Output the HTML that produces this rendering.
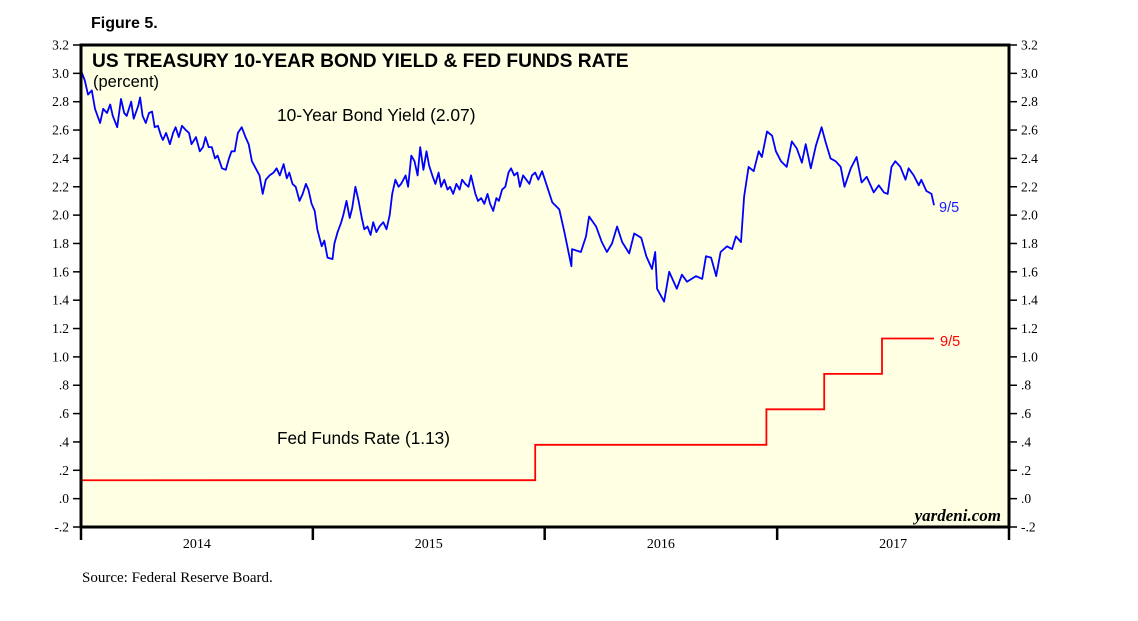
<!DOCTYPE html>
<html><head><meta charset="utf-8">
<style>
body{margin:0;background:#fff;}
svg{display:block;}
.ser{font-family:"Liberation Serif",serif;}
.san{font-family:"Liberation Sans",sans-serif;}
</style></head>
<body>
<svg id="chart" width="1138" height="621" viewBox="0 0 1138 621">
<text x="91" y="28" class="san" font-size="16" font-weight="bold">Figure 5.</text>
<rect x="81" y="45" width="928" height="482" fill="#ffffe3" stroke="none"/>
<g id="ticks"></g>
<g id="series"></g>
<rect x="81" y="45" width="928" height="482" fill="none" stroke="#000" stroke-width="3"/>
<text x="92" y="67" class="san" font-size="19.2" font-weight="bold">US TREASURY 10-YEAR BOND YIELD &amp; FED FUNDS RATE</text>
<text x="93" y="87" class="san" font-size="16.5">(percent)</text>
<text x="277" y="121" class="san" font-size="17.4">10-Year Bond Yield (2.07)</text>
<text x="277" y="444" class="san" font-size="17.2">Fed Funds Rate (1.13)</text>
<text x="939" y="212" class="san" font-size="14.5" fill="#1a1aff">9/5</text>
<text x="940" y="346" class="san" font-size="14.5" fill="#ff0000">9/5</text>
<text x="1001" y="521" class="ser" font-size="17" font-style="italic" font-weight="bold" text-anchor="end">yardeni.com</text>
<text x="82" y="582" class="ser" font-size="15">Source: Federal Reserve Board.</text>
</svg>
<script>
const yTicks=[-0.2,0,0.2,0.4,0.6,0.8,1.0,1.2,1.4,1.6,1.8,2.0,2.2,2.4,2.6,2.8,3.0,3.2];
const yTickLabels=["-.2",".0",".2",".4",".6",".8","1.0","1.2","1.4","1.6","1.8","2.0","2.2","2.4","2.6","2.8","3.0","3.2"];
const yearTicks=[0,365,730,1096,1461];
const yearLabels=["2014","2015","2016","2017"];
const bondDays=[0,6,11,17,22,30,35,41,46,50,57,63,68,72,79,83,90,93,97,102,107,112,116,121,126,129,134,140,145,149,154,159,165,170,174,181,187,192,196,201,206,211,215,222,228,233,237,242,247,253,259,264,269,275,281,286,291,297,303,308,313,319,324,328,333,338,344,349,354,358,363,368,372,379,383,388,396,399,404,409,413,418,423,427,432,437,442,446,451,456,460,465,470,476,481,486,490,495,500,504,511,515,520,525,530,534,539,544,548,553,558,563,567,572,577,581,586,591,596,600,605,610,614,621,625,630,635,640,644,649,654,658,663,668,673,677,682,687,691,696,701,706,710,715,720,726,742,753,761,772,773,787,795,800,811,820,828,836,844,852,863,871,882,890,899,904,907,918,926,938,946,954,968,978,984,992,1000,1007,1017,1025,1031,1039,1044,1051,1059,1067,1072,1080,1088,1094,1102,1111,1119,1127,1135,1141,1149,1157,1166,1172,1180,1188,1196,1202,1212,1221,1229,1237,1248,1256,1264,1270,1276,1282,1290,1298,1303,1311,1319,1323,1331,1339,1343];
const bondYield=[3.02,2.95,2.85,2.88,2.75,2.65,2.75,2.72,2.78,2.70,2.62,2.82,2.72,2.70,2.80,2.68,2.77,2.83,2.70,2.65,2.72,2.73,2.62,2.63,2.56,2.53,2.58,2.50,2.58,2.62,2.55,2.63,2.60,2.58,2.50,2.55,2.45,2.48,2.55,2.48,2.48,2.40,2.42,2.33,2.32,2.40,2.45,2.45,2.58,2.62,2.55,2.50,2.38,2.33,2.28,2.15,2.25,2.28,2.30,2.33,2.28,2.36,2.26,2.30,2.22,2.20,2.10,2.15,2.22,2.18,2.08,2.03,1.90,1.78,1.82,1.70,1.69,1.80,1.88,1.94,2.00,2.10,1.98,2.05,2.20,2.10,1.98,1.90,1.92,1.86,1.95,1.88,1.92,1.95,1.90,2.00,2.15,2.25,2.20,2.22,2.28,2.20,2.42,2.38,2.28,2.48,2.32,2.45,2.35,2.28,2.22,2.30,2.20,2.25,2.18,2.20,2.15,2.22,2.18,2.25,2.22,2.20,2.28,2.15,2.10,2.12,2.08,2.15,2.08,2.03,2.12,2.10,2.18,2.20,2.30,2.33,2.28,2.30,2.20,2.28,2.25,2.22,2.28,2.30,2.25,2.31,2.09,2.04,1.88,1.64,1.76,1.74,1.85,1.99,1.92,1.81,1.74,1.80,1.92,1.81,1.73,1.87,1.84,1.71,1.62,1.74,1.48,1.39,1.60,1.48,1.58,1.53,1.57,1.55,1.71,1.70,1.57,1.74,1.78,1.76,1.85,1.81,2.13,2.34,2.31,2.45,2.41,2.59,2.56,2.45,2.38,2.34,2.52,2.47,2.37,2.50,2.33,2.49,2.62,2.52,2.40,2.38,2.34,2.20,2.33,2.41,2.23,2.27,2.16,2.21,2.16,2.15,2.34,2.38,2.34,2.25,2.33,2.28,2.21,2.25,2.17,2.15,2.07];
const fedDays=[0,715,1079,1170,1261,1343];
const fedRate=[0.13,0.38,0.63,0.88,1.13,1.13];

const NS="http://www.w3.org/2000/svg";
const X0=81,X1=1009,Y0=527,Y1=45;
function xs(d){return X0+(d/1461)*(X1-X0);}
function ys(v){return Y0-(v+0.2)/3.4*(Y0-Y1);}
const tg=document.getElementById('ticks');
const sg=document.getElementById('series');
function mk(tag,attrs,parent){const e=document.createElementNS(NS,tag);for(const k in attrs)e.setAttribute(k,attrs[k]);parent.appendChild(e);return e;}
yTicks.forEach((v,i)=>{
  const y=ys(v);
  const l=mk('line',{x1:73,x2:81,y1:y,y2:y,stroke:'#000','stroke-width':1.5},tg);
  
  
  const r=mk('line',{x1:1009,x2:1017,y1:y,y2:y,stroke:'#000','stroke-width':1.5},tg);
  
  
  const t1=mk('text',{x:69,y:y+4.5,'text-anchor':'end','font-size':13.5,'class':'ser'},tg);
  t1.textContent=yTickLabels[i];
  
  
  const t2=mk('text',{x:1021,y:y+4.5,'font-size':13.5,'class':'ser'},tg);
  t2.textContent=yTickLabels[i];
  
  
});
yearTicks.forEach(d=>{
  const x=xs(d);
  const l=mk('line',{x1:x,x2:x,y1:527,y2:540,stroke:'#000','stroke-width':2.5},tg);
  
  
});
yearLabels.forEach((s,i)=>{
  const x=(xs(yearTicks[i])+xs(yearTicks[i+1]))/2;
  const t=mk('text',{x:x,y:548,'text-anchor':'middle','font-size':14,'class':'ser'},tg);
  t.textContent=s;
  
  
});
let p=bondDays.map((d,i)=>(i?'L':'M')+xs(d).toFixed(1)+' '+ys(bondYield[i]).toFixed(1)).join(' ');
const bl=mk('path',{d:p,fill:'none',stroke:'#0000ff','stroke-width':1.8,'stroke-linejoin':'round'},sg);


let q='M'+xs(fedDays[0])+' '+ys(fedRate[0]);
for(let i=1;i<fedDays.length;i++){q+=' L'+xs(fedDays[i]).toFixed(1)+' '+ys(fedRate[i-1]).toFixed(1)+' L'+xs(fedDays[i]).toFixed(1)+' '+ys(fedRate[i]).toFixed(1);}
const fl=mk('path',{d:q,fill:'none',stroke:'#ff0000','stroke-width':1.8},sg);


</script>
</body></html>
